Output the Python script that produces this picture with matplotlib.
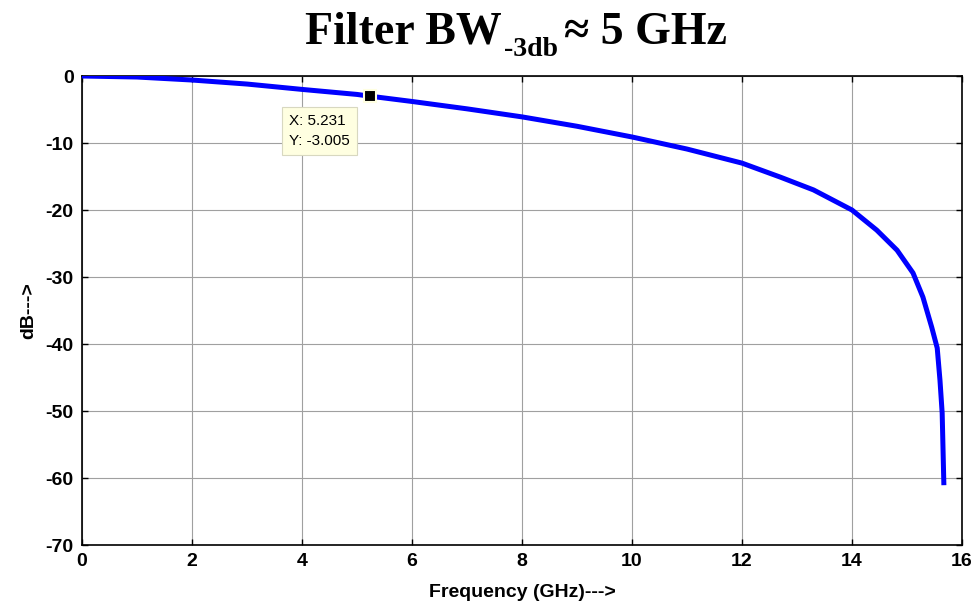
import matplotlib
matplotlib.use("Agg")
import matplotlib.pyplot as plt

# values
freq_ghz = [0, 1, 2, 3, 4, 5, 5.231, 6, 7, 8, 9, 10, 11, 12, 12.7, 13.3,
            14, 14.45, 14.82, 15.11, 15.29, 15.45, 15.55, 15.6, 15.64, 15.67]
gain_db = [0, -0.15, -0.6, -1.2, -2.0, -2.75, -3.005, -3.8, -4.9, -6.1, -7.5,
           -9.1, -10.9, -13.0, -15.1, -17.0, -20.0, -23.0, -26.0, -29.4,
           -33.0, -37.5, -40.6, -45.4, -50.3, -60.7]
tip_x, tip_y = 5.231, -3.005
x_ticks = [0, 2, 4, 6, 8, 10, 12, 14, 16]
y_ticks = [0, -10, -20, -30, -40, -50, -60, -70]

plt.rcParams['font.family'] = ['Liberation Sans', 'DejaVu Sans']
plt.rcParams['axes.unicode_minus'] = False

fig = plt.figure(figsize=(9.8, 6.11), dpi=100)
ax = fig.add_axes([0.0837, 0.108, 0.8979, 0.7676])

ax.plot(freq_ghz, gain_db, color='#0000ff', lw=3.6, solid_joinstyle='round', zorder=3)
ax.plot([tip_x], [tip_y], marker='s', ms=9, mfc='black', mec='#ffffe1', mew=1.5, zorder=4)
ax.annotate(f"X: {tip_x}\nY: {tip_y}", xy=(tip_x, tip_y), xytext=(-58, -13),
            textcoords='offset points', ha='left', va='top', fontsize=11,
            family=['Liberation Sans', 'DejaVu Sans'], linespacing=1.5,
            bbox=dict(boxstyle='square,pad=0.45', fc='#ffffe1', ec='#d8d8c0', lw=0.8),
            zorder=5)

ax.set_xlim(0, 16)
ax.set_ylim(-70, 0)
ax.set_xticks(x_ticks)
ax.set_yticks(y_ticks)
ax.grid(True, color='#a0a0a0', lw=0.8)
ax.set_axisbelow(True)
ax.tick_params(direction='in', length=4, width=1, top=True, right=True,
               labelsize=14, pad=6)
for lab in ax.get_xticklabels() + ax.get_yticklabels():
    lab.set_fontweight('bold')
for s in ax.spines.values():
    s.set_linewidth(1.2)

ax.set_xlabel('Frequency (GHz)--->', fontsize=14, fontweight='bold', labelpad=10)
ax.set_ylabel('dB--->', fontsize=14, fontweight='bold', labelpad=6)

# title built from pieces so the subscript keeps a plain hyphen
serif = ['Liberation Serif', 'DejaVu Serif']
fig.canvas.draw()
r = fig.canvas.get_renderer()
t1 = fig.text(305 / 980, 1 - 44 / 611, 'Filter BW', fontsize=33, fontweight='bold',
              family=serif, ha='left', va='baseline')
bb = t1.get_window_extent(r)
t2 = fig.text((bb.x1 + 2) / 980, 1 - 56 / 611, '-3db', fontsize=20, fontweight='bold',
              family=serif, ha='left', va='baseline')
bb2 = t2.get_window_extent(r)
fig.text((bb2.x1 + 6) / 980, 1 - 44 / 611, '≈ 5 GHz', fontsize=33, fontweight='bold',
         family=serif, ha='left', va='baseline')

fig.savefig('out.png', dpi=100)
